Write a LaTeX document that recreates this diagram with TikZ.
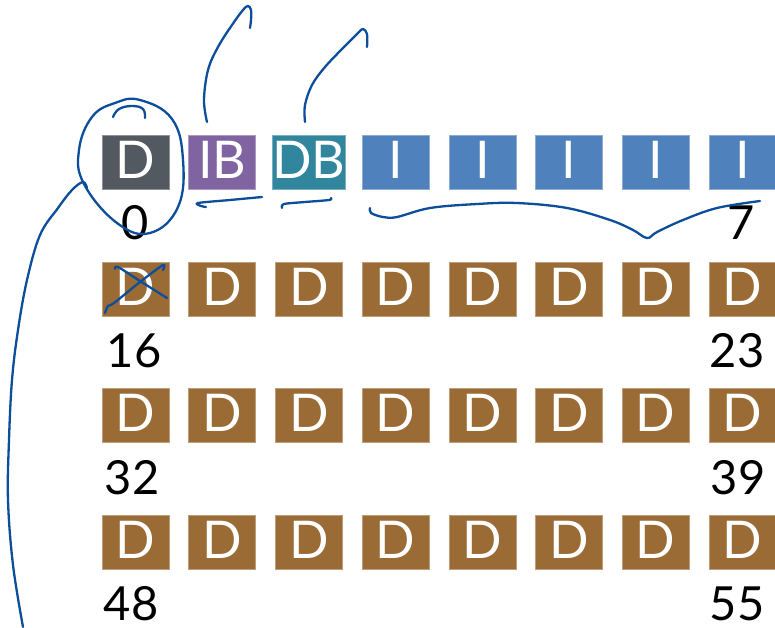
\documentclass[tikz,border=0pt]{standalone}
\usepackage{fontspec}
\setmainfont{Lato}
\definecolor{cgray}{HTML}{535960}
\definecolor{cpurple}{HTML}{8064A2}
\definecolor{cteal}{HTML}{31859C}
\definecolor{cblue}{HTML}{4F81BD}
\definecolor{cbrown}{HTML}{9A6B35}
\definecolor{pencol}{HTML}{0C4E9A}
\tikzset{
  box/.style={minimum width=67pt, minimum height=54pt, inner sep=0pt, text=white,
    font=\fontsize{52}{52}\selectfont, text height=32pt, text depth=0pt,
    draw=#1!65!white, line width=0.6pt, fill=#1},
  num/.style={anchor=base, inner sep=0pt, font=\fontsize{47}{48}\selectfont, text=black, text depth=0pt},
  pen/.style={draw=pencol, line width=2.3pt, line cap=round, line join=round}
}
\begin{document}
\begin{tikzpicture}[x=1pt,y=-1pt]
\useasboundingbox (0,0) rectangle (775,627);
% row 0
\foreach \c/\col/\t in {0/cgray/D,1/cpurple/IB,2/cteal/DB,3/cblue/I,4/cblue/I,5/cblue/I,6/cblue/I,7/cblue/I}
  \node[box=\col] (b0\c) at ({135.5+86.7*\c},162) {\t};
% rows 1-3
\foreach \r/\yc in {1/289,2/415.5,3/542}
  \foreach \c in {0,...,7}
    \node[box=cbrown] (b\r\c) at ({135.5+86.7*\c},\yc) {D};
% numbers
\node[num] (n0) at (135,239) {0};
\node[num] (n7) at (741,239) {7};
\node[num] (n16) at (134,367) {16};
\node[num] (n23) at (737,367) {23};
\node[num] (n32) at (132,494) {32};
\node[num] (n39) at (738,494) {39};
\node[num] (n48) at (131,620) {48};
\node[num] (n55) at (737,620) {55};
% loop around first D
\draw[pen] plot[smooth cycle, tension=0.7] coordinates {(140,100) (172,119) (183,160) (178,207) (150,233) (117,223) (84,184) (79,150) (92,117) (115,103)};
\draw[pen] plot[smooth, tension=0.7] coordinates {(113,117) (119,109) (132,106) (143,109) (145,118)};
% long line down from loop
\coordinate (lstart) at (87,188);
\coordinate (lend) at (23,627);
\draw[pen] plot[smooth, tension=0.6] coordinates {(lstart) (83,182) (72,190) (58,208) (40,235) (27,280) (18,330) (12,380) (9,440) (8,500) (13,565) (lend)};
% arrows from IB and DB
\draw[pen] plot[smooth, tension=0.6] coordinates {(207,122) (204,100) (208,70) (218,47) (232,25) (243,10) (248,6) (251,10) (251,20) (250,28)};
\draw[pen] plot[smooth, tension=0.6] coordinates {(305,122) (305,105) (312,85) (325,67) (343,48) (358,33) (363,29) (367,34) (367,47)};
% underlines
\draw[pen] plot[smooth, tension=0.5] coordinates {(262,197) (230,200) (198,203) (201,206) (206,207)};
\draw[pen] plot[smooth, tension=0.5] coordinates {(282,208) (284,204) (305,202) (329,200) (331,198)};
% brace under I boxes
\draw[pen] plot[smooth, tension=0.6] coordinates {(370,208) (371,213) (383,217) (397,217) (430,208) (477,204) (517,203) (567,208) (610,220) (633,230) (647,238) (657,232) (683,220) (717,208) (760,201)};
% cross over first D of row 1
\draw[pen] plot[smooth, tension=0.5] coordinates {(115,269) (118,267) (140,281) (167,298)};
\draw[pen] plot[smooth, tension=0.5] coordinates {(105,313) (108,306) (114,303) (140,282) (163,265) (163,270)};
\end{tikzpicture}
\end{document}
